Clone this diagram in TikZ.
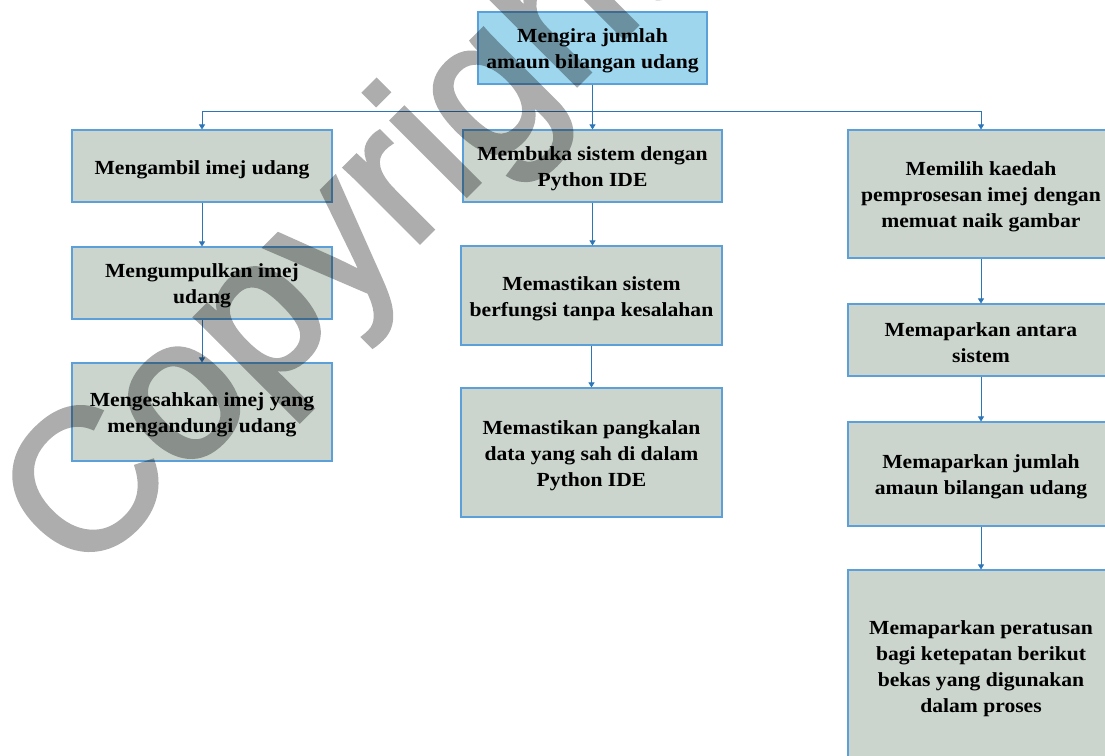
\documentclass[tikz,border=0pt]{standalone}
\usepackage{fontspec}
\setmainfont{Liberation Serif}[FakeStretch=1.08]
\newfontfamily\wmfont{Liberation Sans}[FakeBold=2]
\usetikzlibrary{arrows.meta}

\definecolor{boxfill}{RGB}{203,213,206}
\definecolor{topfill}{RGB}{158,214,238}
\definecolor{boxline}{RGB}{91,160,216}
\definecolor{connline}{RGB}{46,117,182}

% taller first line, so the text block sits a little lower in its box
\newcommand\firststrut{\rule{0pt}{20pt}}

\tikzset{
  box/.style={draw=boxline, line width=1.1pt, fill=boxfill, align=center,
    inner sep=2pt, font=\bfseries\fontsize{20}{26}\selectfont},
  topbox/.style={box, fill=topfill},
  conn/.style={draw=connline, line width=0.8pt,
    -{Triangle[length=5pt,width=6pt]}}
}

\begin{document}
\begin{tikzpicture}[x=1pt, y=-1pt]
  \useasboundingbox (0,0) rectangle (1105,755);
  \clip (0,0) rectangle (1105,755);
  \fill[white] (0,0) rectangle (1105,755);

  % root
  \node[topbox, minimum width=229pt, minimum height=72pt] (top) at (592.5,48)
    {\firststrut Mengira jumlah\\amaun bilangan udang};

  % left branch
  \node[box, minimum width=260pt, minimum height=72pt] (L1) at (202,166)
    {\rule{0pt}{22pt}Mengambil imej udang};
  \node[box, minimum width=260pt, minimum height=72pt] (L2) at (202,283)
    {\firststrut Mengumpulkan imej\\udang};
  \node[box, minimum width=260pt, minimum height=98pt] (L3) at (202,412)
    {\firststrut Mengesahkan imej yang\\mengandungi udang};

  % middle branch
  \node[box, minimum width=259pt, minimum height=72pt] (M1) at (592.5,166)
    {\firststrut Membuka sistem dengan\\Python IDE};
  \node[box, minimum width=261pt, minimum height=99pt] (M2) at (591.5,295.5)
    {\firststrut Memastikan sistem\\berfungsi tanpa kesalahan};
  \node[box, minimum width=261pt, minimum height=129pt] (M3) at (591.5,452.5)
    {\firststrut Memastikan pangkalan\\data yang sah di dalam\\Python IDE};

  % right branch
  \node[box, minimum width=266pt, minimum height=128pt] (R1) at (981,194)
    {\firststrut Memilih kaedah\\pemprosesan imej dengan\\memuat naik gambar};
  \node[box, minimum width=266pt, minimum height=72pt] (R2) at (981,340)
    {\firststrut Memaparkan antara\\sistem};
  \node[box, minimum width=266pt, minimum height=104pt] (R3) at (981,474)
    {\firststrut Memaparkan jumlah\\amaun bilangan udang};
  \node[box, minimum width=266pt, minimum height=192pt] (R4) at (981,666)
    {\firststrut Memaparkan peratusan\\bagi ketepatan berikut\\bekas yang digunakan\\dalam proses};

  % connectors
  \coordinate (split) at (592.5,111);
  \draw[conn] (top.south) -- (M1.north);
  \draw[conn] (split) -| (L1.north);
  \draw[conn] (split) -| (R1.north);
  \draw[conn] (L1) -- (L2);
  \draw[conn] (L2) -- (L3);
  \draw[conn] (M1.south) -- (M1.south |- M2.north);
  \draw[conn] (M2) -- (M3);
  \draw[conn] (R1) -- (R2);
  \draw[conn] (R2) -- (R3);
  \draw[conn] (R3) -- (R4);

  % watermark
  \begin{scope}[transparency group, opacity=0.32]
    \node[rotate=45, anchor=base west, inner sep=0pt, text=black,
      font=\wmfont\fontsize{200}{200}\selectfont] (wm) at (80,582) {Copyright};
  \end{scope}
\end{tikzpicture}
\end{document}
